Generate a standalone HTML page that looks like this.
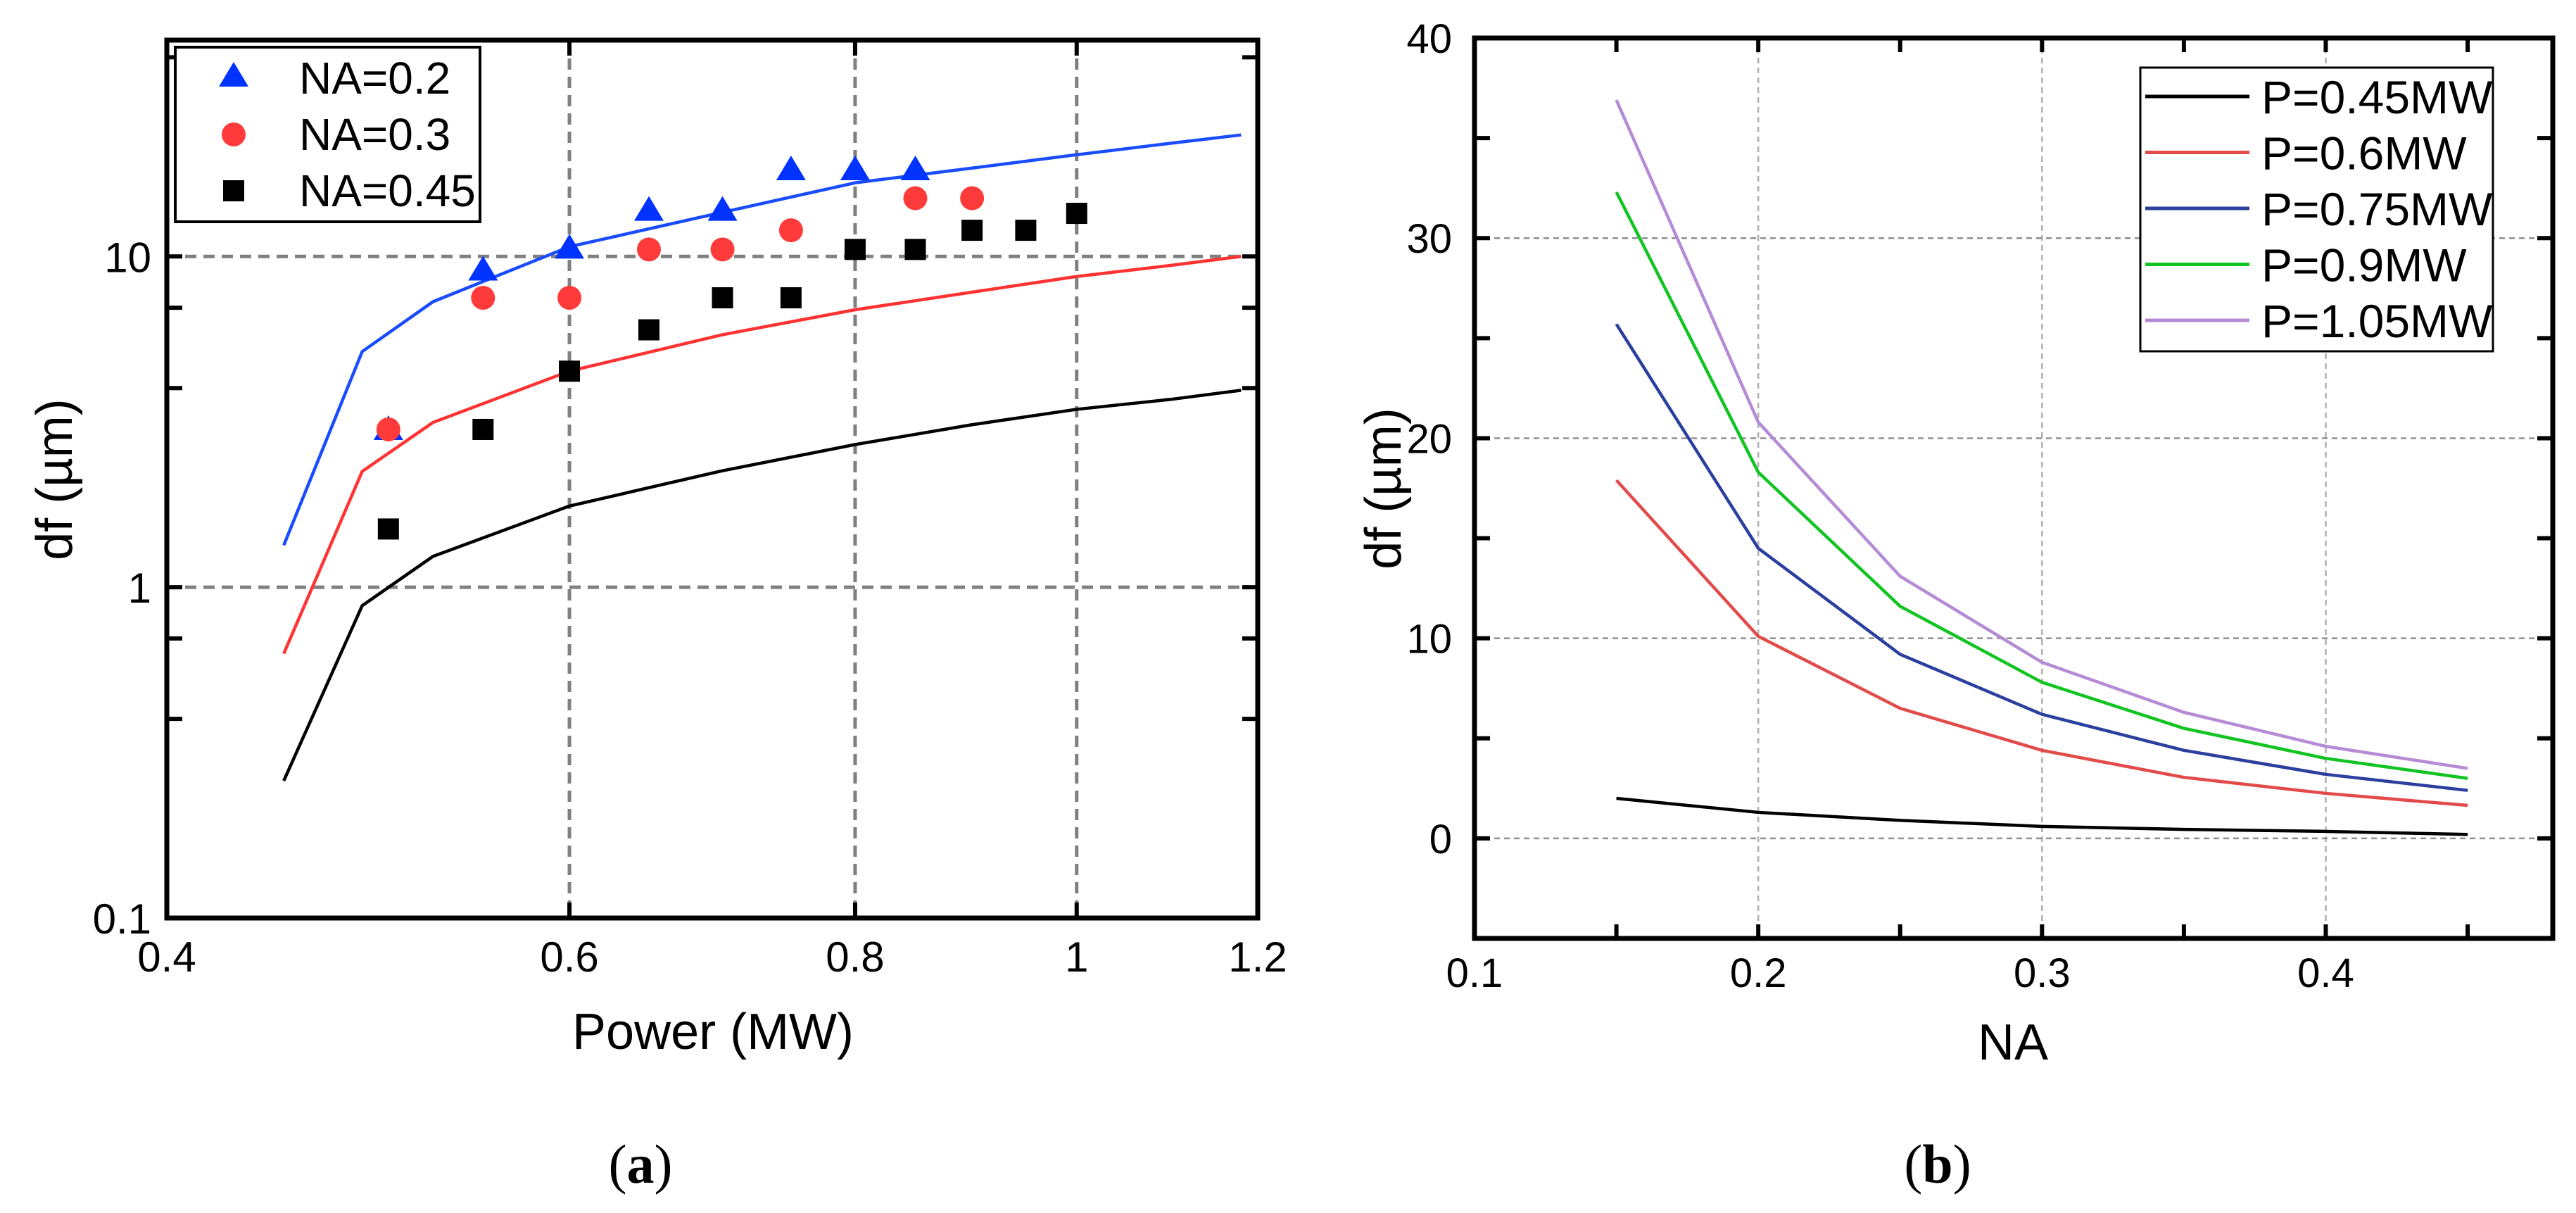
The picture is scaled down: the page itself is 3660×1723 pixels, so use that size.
<!DOCTYPE html>
<html><head><meta charset="utf-8"><style>
html,body{margin:0;padding:0;background:#fff;}
svg{display:block;font-family:"Liberation Sans",Arial,sans-serif;}
</style></head><body>
<svg id="fig" width="3660" height="1723" viewBox="0 0 3660 1723" xmlns="http://www.w3.org/2000/svg"></svg>
<script>
// ---- Panel (a) data ----
const aCurveX = [0.45,0.487,0.523,0.6,0.7,0.8,0.9,1.0,1.1,1.18];
const aCurveNA02 = [1.34,5.16,7.3,10.7,13.6,16.7,18.5,20.3,22,23.3];
const aCurveNA03 = [0.63,2.24,3.15,4.5,5.8,6.9,7.8,8.7,9.4,10];
const aCurveNA045 = [0.26,0.88,1.24,1.76,2.25,2.7,3.1,3.45,3.7,3.94];
const triX = [0.5,0.55,0.6,0.65,0.7,0.75,0.8,0.85];
const triY = [3.0,9.1,10.6,13.8,13.8,18.3,18.3,18.3];
const cirX = [0.5,0.55,0.6,0.65,0.7,0.75,0.85,0.9];
const cirY = [3.0,7.5,7.5,10.5,10.5,12.0,15.0,15.0];
const sqX = [0.5,0.55,0.6,0.65,0.7,0.75,0.8,0.85,0.9,0.95,1.0];
const sqY = [1.5,3.0,4.5,6.0,7.5,7.5,10.5,10.5,12,12,13.5];
const aXTicks = [0.4,0.6,0.8,1,1.2];
const aXTickLabels = ["0.4","0.6","0.8","1","1.2"];
const aYTicks = [0.1,1,10];
const aYTickLabels = ["0.1","1","10"];
const aYMinor = [0.4,0.7,4,7,40];
// ---- Panel (b) data ----
const bX = [0.15,0.2,0.25,0.3,0.35,0.4,0.45];
const bP045 = [2.0,1.3,0.9,0.6,0.45,0.35,0.2];
const bP06 = [17.9,10.1,6.5,4.4,3.05,2.25,1.65];
const bP075 = [25.7,14.5,9.2,6.2,4.4,3.2,2.4];
const bP09 = [32.3,18.3,11.6,7.8,5.5,4.0,3.0];
const bP105 = [36.9,20.8,13.1,8.8,6.3,4.6,3.5];
const bXTicks = [0.1,0.2,0.3,0.4];
const bXTickLabels = ["0.1","0.2","0.3","0.4"];
const bYTicks = [0,10,20,30,40];
const bYTickLabels = ["0","10","20","30","40"];
const bYMinor = [5,15,25,35];
const bXMinor = [0.15,0.25,0.35,0.45];

const NS="http://www.w3.org/2000/svg";
const svg=document.getElementById('fig');
function mk(tag,attrs,parent){const e=document.createElementNS(NS,tag);for(const k in attrs)e.setAttribute(k,attrs[k]);(parent||svg).appendChild(e);return e;}

// ---------- Panel A ----------
const A={l:237,r:1787,t:57,b:1304,x0:Math.log10(0.4),x1:Math.log10(1.2),y0:-1,y1:1.654};
const ax=v=>A.l+(Math.log10(v)-A.x0)/(A.x1-A.x0)*(A.r-A.l);
const ay=v=>A.b-(Math.log10(v)-A.y0)/(A.y1-A.y0)*(A.b-A.t);
const gA=mk('g',{});


[0.6,0.8,1].forEach(v=>{const l=mk('line',{x1:ax(v),x2:ax(v),y1:A.t,y2:A.b,stroke:'#808080','stroke-width':5,'stroke-dasharray':'16 10'},gA);

});
[1,10].forEach(v=>{const l=mk('line',{x1:A.l,x2:A.r,y1:ay(v),y2:ay(v),stroke:'#808080','stroke-width':5,'stroke-dasharray':'16 10'},gA);

});
function polyA(xs,ys,color,name){const pts=xs.map((x,i)=>ax(x)+','+ay(ys[i])).join(' ');const p=mk('polyline',{points:pts,fill:'none',stroke:color,'stroke-width':4.5,'stroke-linejoin':'round'},gA);

}
polyA(aCurveX,aCurveNA02,'#1a4cff','curve-na-0.2');
polyA(aCurveX,aCurveNA03,'#ff3333','curve-na-0.3');
polyA(aCurveX,aCurveNA045,'#000','curve-na-0.45');
function tri(cx,cy,g){return mk('polygon',{points:`${cx},${cy-20} ${cx-21},${cy+15} ${cx+21},${cy+15}`,fill:'#0033ff'},g);}
triX.forEach((x,i)=>{const e=tri(ax(x),ay(triY[i]),gA);

});
cirX.forEach((x,i)=>{const e=mk('circle',{cx:ax(x),cy:ay(cirY[i]),r:17,fill:'#ff3a3a'},gA);

});
sqX.forEach((x,i)=>{const e=mk('rect',{x:ax(x)-15,y:ay(sqY[i])-15,width:30,height:30,fill:'#000'},gA);

});
// ticks
aXTicks.forEach((v,i)=>{const x=ax(v);
mk('line',{x1:x,x2:x,y1:A.b,y2:A.b-22,stroke:'#000','stroke-width':6},gA);
mk('line',{x1:x,x2:x,y1:A.t,y2:A.t+22,stroke:'#000','stroke-width':6},gA);
const t=mk('text',{x:x,y:1380,'font-size':60,'text-anchor':'middle'},gA);t.textContent=aXTickLabels[i];

});
aYTicks.concat(aYMinor).forEach(v=>{const y=ay(v);
mk('line',{x1:A.l,x2:A.l+22,y1:y,y2:y,stroke:'#000','stroke-width':6},gA);
mk('line',{x1:A.r,x2:A.r-22,y1:y,y2:y,stroke:'#000','stroke-width':6},gA);});
aYTicks.forEach((v,i)=>{const t=mk('text',{x:A.l-22,y:ay(v)+22,'font-size':60,'text-anchor':'end'},gA);t.textContent=aYTickLabels[i];

});
const frA=mk('rect',{x:A.l,y:A.t,width:A.r-A.l,height:A.b-A.t,fill:'none',stroke:'#000','stroke-width':7},gA);


let t=mk('text',{x:1013,y:1490,'font-size':72,'text-anchor':'middle'},gA);t.textContent='Power (MW)';


t=mk('text',{x:0,y:0,'font-size':72,'text-anchor':'middle',transform:'translate(102,681) rotate(-90)'},gA);t.textContent='df (\u00B5m)';


// legend A
const lgA=mk('g',{},gA);


mk('rect',{x:249,y:67,width:433,height:248,fill:'#fff',stroke:'#000','stroke-width':4},lgA);
tri(332,108,lgA);mk('circle',{cx:332,cy:191,r:17,fill:'#ff3a3a'},lgA);mk('rect',{x:317,y:256,width:30,height:30,fill:'#000'},lgA);
["NA=0.2","NA=0.3","NA=0.45"].forEach((s,i)=>{const e=mk('text',{x:425,y:133+i*80,'font-size':64},lgA);e.textContent=s;

});
t=mk('text',{x:910,y:1680,'font-size':78,'text-anchor':'middle','font-family':'Liberation Serif,serif'},gA);
t.innerHTML='(<tspan font-weight="bold">a</tspan>)';



// ---------- Panel B ----------
const B={l:2095,r:3627,t:54,b:1333,x0:0.1,x1:0.48,y0:-5,y1:40};
const bx=v=>B.l+(v-B.x0)/(B.x1-B.x0)*(B.r-B.l);
const by=v=>B.b-(v-B.y0)/(B.y1-B.y0)*(B.b-B.t);
const gB=mk('g',{});


[0.2,0.3,0.4].forEach(v=>{const l=mk('line',{x1:bx(v),x2:bx(v),y1:B.t,y2:B.b,stroke:'#b0b0b0','stroke-width':2.5,'stroke-dasharray':'8 6'},gB);

});
[0,10,20,30].forEach(v=>{const l=mk('line',{x1:B.l,x2:B.r,y1:by(v),y2:by(v),stroke:'#909090','stroke-width':2.5,'stroke-dasharray':'8 6'},gB);

});
const bSeries=[[bP045,'#000','line-p-0.45'],[bP06,'#e34a4a','line-p-0.6'],[bP075,'#2b3f9e','line-p-0.75'],[bP09,'#11c422','line-p-0.9'],[bP105,'#b58bd6','line-p-1.05']];
bSeries.forEach(s=>{const pts=bX.map((x,i)=>bx(x)+','+by(s[0][i])).join(' ');const p=mk('polyline',{points:pts,fill:'none',stroke:s[1],'stroke-width':4.5,'stroke-linejoin':'round'},gB);

});
bXTicks.concat(bXMinor).forEach(v=>{const x=bx(v);
mk('line',{x1:x,x2:x,y1:B.b,y2:B.b-20,stroke:'#000','stroke-width':6},gB);
mk('line',{x1:x,x2:x,y1:B.t,y2:B.t+20,stroke:'#000','stroke-width':6},gB);});
bXTicks.forEach((v,i)=>{const e=mk('text',{x:bx(v),y:1402,'font-size':58,'text-anchor':'middle'},gB);e.textContent=bXTickLabels[i];

});
bYTicks.concat(bYMinor).forEach(v=>{const y=by(v);
mk('line',{x1:B.l,x2:B.l+22,y1:y,y2:y,stroke:'#000','stroke-width':6},gB);
mk('line',{x1:B.r,x2:B.r-22,y1:y,y2:y,stroke:'#000','stroke-width':6},gB);});
bYTicks.forEach((v,i)=>{const e=mk('text',{x:B.l-32,y:by(v)+21,'font-size':58,'text-anchor':'end'},gB);e.textContent=bYTickLabels[i];

});
const frB=mk('rect',{x:B.l,y:B.t,width:B.r-B.l,height:B.b-B.t,fill:'none',stroke:'#000','stroke-width':7},gB);


t=mk('text',{x:2860,y:1505,'font-size':72,'text-anchor':'middle'},gB);t.textContent='NA';


t=mk('text',{x:0,y:0,'font-size':72,'text-anchor':'middle',transform:'translate(1990,694) rotate(-90)'},gB);t.textContent='df (\u00B5m)';


const lgB=mk('g',{},gB);


mk('rect',{x:3041,y:96,width:501,height:403,fill:'#fff',stroke:'#000','stroke-width':3},lgB);
const bNames=["P=0.45MW","P=0.6MW","P=0.75MW","P=0.9MW","P=1.05MW"];
bNames.forEach((s,i)=>{const y=137+i*79.5;
mk('line',{x1:3048,x2:3196,y1:y,y2:y,stroke:bSeries[i][1],'stroke-width':5},lgB);
const e=mk('text',{x:3213,y:y+24,'font-size':66},lgB);e.textContent=s;

});
t=mk('text',{x:2753,y:1680,'font-size':78,'text-anchor':'middle','font-family':'Liberation Serif,serif'},gB);
t.innerHTML='(<tspan font-weight="bold">b</tspan>)';


</script>
</body></html>
